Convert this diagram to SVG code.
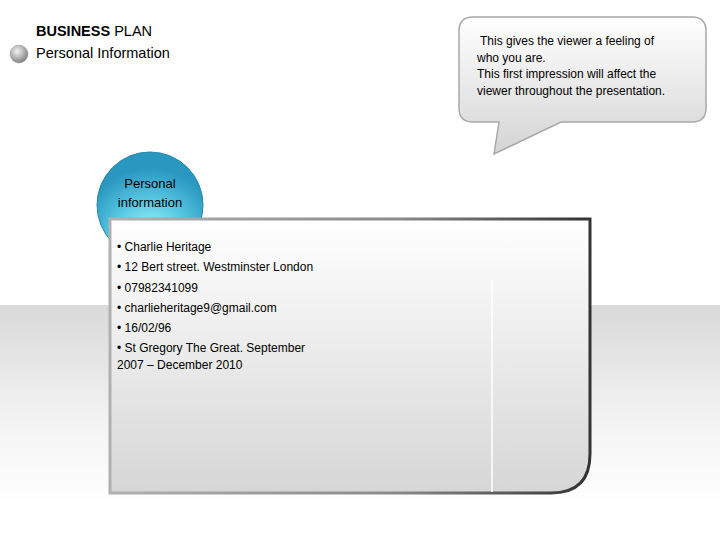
<svg xmlns="http://www.w3.org/2000/svg" width="720" height="540" viewBox="0 0 720 540">
<defs>
<linearGradient id="band" x1="0" y1="0" x2="0" y2="1"><stop offset="0" stop-color="#d9d9d9"/><stop offset="0.6" stop-color="#f4f4f4"/><stop offset="1" stop-color="#ffffff"/></linearGradient>
<linearGradient id="card" x1="0" y1="0" x2="0" y2="1"><stop offset="0" stop-color="#ffffff"/><stop offset="1" stop-color="#d6d6d6"/></linearGradient>
<linearGradient id="cardStroke" x1="0" y1="0" x2="1" y2="0"><stop offset="0" stop-color="#b0b0b0"/><stop offset="0.6" stop-color="#8a8a8a"/><stop offset="1" stop-color="#333333"/></linearGradient>
<linearGradient id="bubble" x1="0" y1="0" x2="0" y2="1"><stop offset="0" stop-color="#ffffff"/><stop offset="1" stop-color="#d4d4d4"/></linearGradient>
<radialGradient id="ball" cx="0.5" cy="0.8" r="0.65"><stop offset="0" stop-color="#a6fbff"/><stop offset="0.55" stop-color="#56c6e2"/><stop offset="1" stop-color="#2a97c0"/></radialGradient>
<radialGradient id="dot" cx="0.4" cy="0.35" r="0.7"><stop offset="0" stop-color="#f2f2f2"/><stop offset="1" stop-color="#7a7a7a"/></radialGradient>
</defs>
<style>
text{font-family:"Liberation Sans",Arial,sans-serif;fill:#000}
.c{font-size:12px}
.b{font-size:12px}
</style>
<rect x="0" y="305" width="720" height="200" fill="url(#band)"/>
<g id="title">
<circle cx="19" cy="54" r="9" fill="url(#dot)" stroke="#9a9a9a" stroke-width="0.5"/>
<text x="36" y="36" font-size="14.5"><tspan font-weight="bold">BUSINESS</tspan> PLAN</text>
<text x="36" y="58" font-size="14.5">Personal Information</text>
</g>
<g id="bubble-note">
<path d="M473,17 H692 Q706,17 706,31 V108 Q706,122 692,122 H561 L494,154 L499,122 H473 Q459,122 459,108 V31 Q459,17 473,17 Z" fill="url(#bubble)" stroke="#a8a8a8" stroke-width="1.5"/>
<text class="b" x="480" y="45">This gives the viewer a feeling of</text>
<text class="b" x="477" y="62">who you are.</text>
<text class="b" x="477" y="78">This first impression will affect the</text>
<text class="b" x="477" y="95">viewer throughout the presentation.</text>
</g>
<g id="circle-node">
<circle cx="150" cy="205" r="53" fill="url(#ball)" stroke="#2787ad" stroke-width="1"/>
<text x="150" y="188" font-size="13" text-anchor="middle">Personal</text>
<text x="150" y="207" font-size="13" text-anchor="middle">information</text>
</g>
<g id="card-node">
<path d="M110,219 H590 V454 Q590,493 551,493 H110 Z" fill="url(#card)" stroke="url(#cardStroke)" stroke-width="3"/>
<line x1="492" y1="280" x2="492" y2="492" stroke="#ffffff" stroke-width="1.5"/>
<text class="c" x="117" y="251">• Charlie Heritage</text>
<text class="c" x="117" y="271">• 12 Bert street. Westminster London</text>
<text class="c" x="117" y="292">• 07982341099</text>
<text class="c" x="117" y="312">• charlieheritage9@gmail.com</text>
<text class="c" x="117" y="332">• 16/02/96</text>
<text class="c" x="117" y="352">• St Gregory The Great.  September</text>
<text class="c" x="117" y="369">2007 – December 2010</text>
</g>
<g id="connectors"/>
</svg>
